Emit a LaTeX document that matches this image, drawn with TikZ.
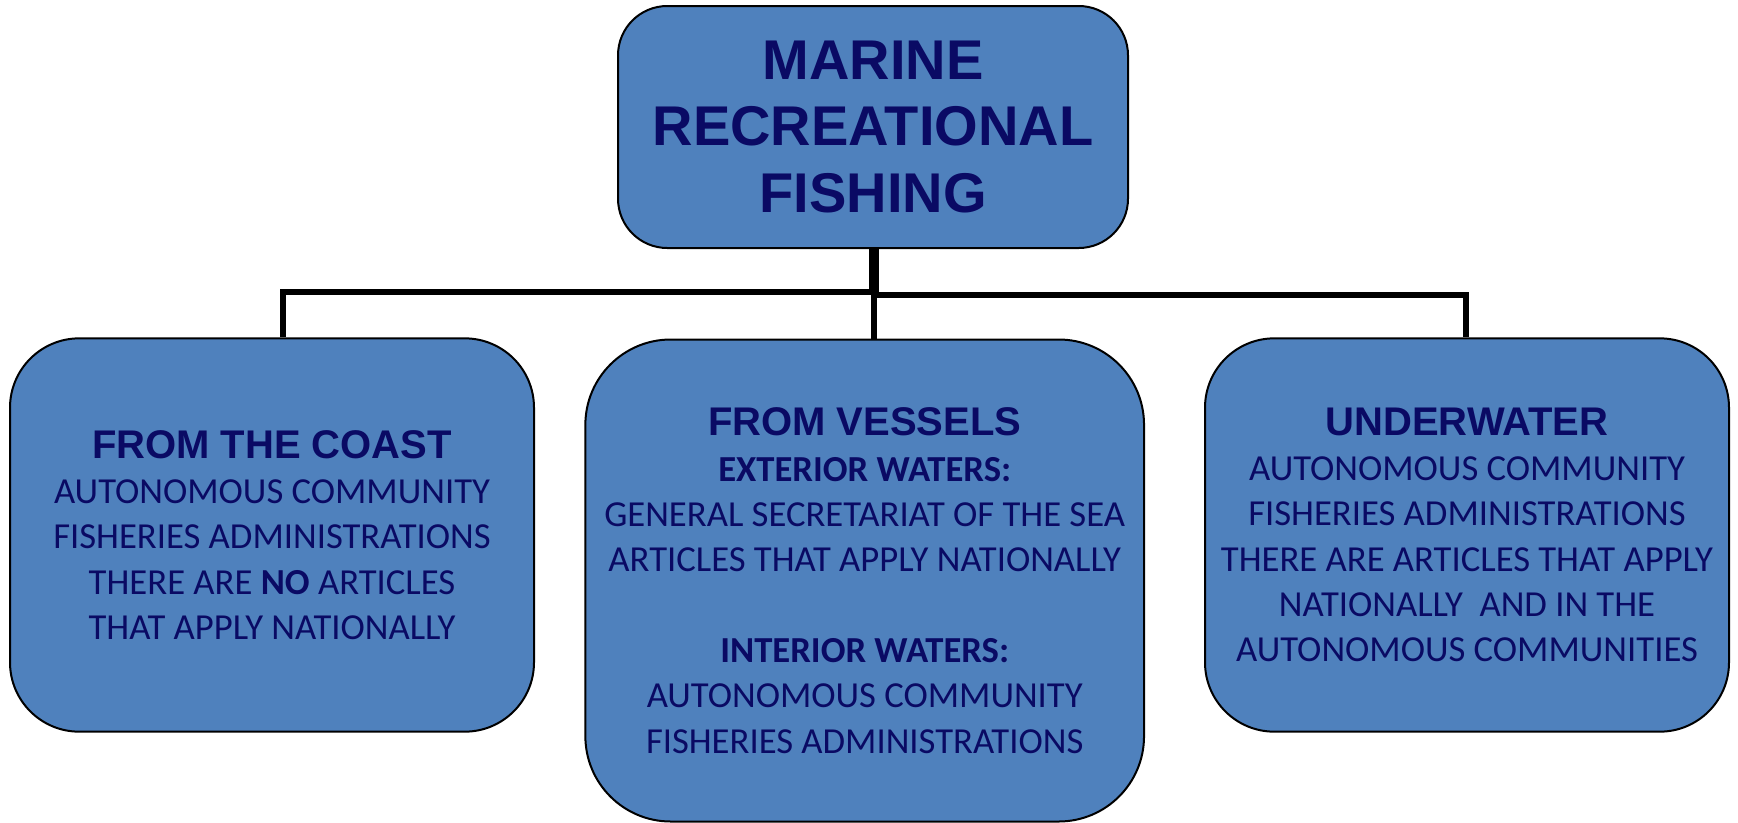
\documentclass[tikz,border=0pt]{standalone}
\usepackage{fontspec}
\setmainfont{Carlito}
\newfontfamily\headfont{Liberation Sans}
\definecolor{boxtext}{RGB}{10,10,100}
\definecolor{boxfill}{RGB}{79,129,189}
\begin{document}
\begin{tikzpicture}[x=0.75pt,y=-0.75pt,
  box/.style={draw=black, line width=1.5pt, fill=boxfill, align=center,
    text=boxtext, inner sep=0pt, font=\fontsize{27.5}{34}\selectfont},
  trunk/.style={line width=7.5pt},
  bus/.style={line width=4.5pt, line cap=rect},
  drop/.style={line width=4pt}]
\useasboundingbox (0,0) rectangle (1738,822);

\node[box, rounded corners=37pt, minimum width=382.5pt, minimum height=181.5pt,
  font=\headfont\bfseries\fontsize{42}{50}\selectfont] (top) at (873,127)
  {MARINE\\RECREATIONAL\\FISHING};

\node[box, rounded corners=52pt, minimum width=393pt, minimum height=295pt] (coast) at (272,535)
  {{\headfont\bfseries\fontsize{30}{34}\selectfont FROM THE COAST}\\
   AUTONOMOUS COMMUNITY\\
   FISHERIES ADMINISTRATIONS\\
   THERE ARE \textbf{NO} ARTICLES\\
   THAT APPLY NATIONALLY};

\node[box, rounded corners=64pt, minimum width=419pt, minimum height=361.5pt] (vessels) at (864.7,580.5)
  {{\headfont\bfseries\fontsize{30}{34}\selectfont FROM VESSELS}\\
   \textbf{EXTERIOR WATERS:}\\
   GENERAL SECRETARIAT OF THE SEA\\
   ARTICLES THAT APPLY NATIONALLY\\[34pt]
   \textbf{INTERIOR WATERS:}\\
   AUTONOMOUS COMMUNITY\\
   FISHERIES ADMINISTRATIONS};

\node[box, rounded corners=52pt, minimum width=393pt, minimum height=295pt] (under) at (1467,535)
  {{\headfont\bfseries\fontsize{30}{34}\selectfont UNDERWATER}\\
   AUTONOMOUS COMMUNITY\\
   FISHERIES ADMINISTRATIONS\\
   THERE ARE ARTICLES THAT APPLY\\
   NATIONALLY\ \ AND IN THE\\
   AUTONOMOUS COMMUNITIES};

\coordinate (busC) at (874,292);
\coordinate (busL) at (283,292);
\coordinate (busR) at (1466,294.5);

\draw[trunk] (top.south -| busC) -- ([yshift=-2.5pt]busC);
\draw[bus] (busL) -- (busC);
\draw[bus] (busC |- busR) -- (busR);
\draw[drop] (busL) -- (coast.north -| busL);
\draw[drop] (busC) -- (vessels.north -| busC);
\draw[drop] (busR) -- (under.north -| busR);
\end{tikzpicture}
\end{document}
